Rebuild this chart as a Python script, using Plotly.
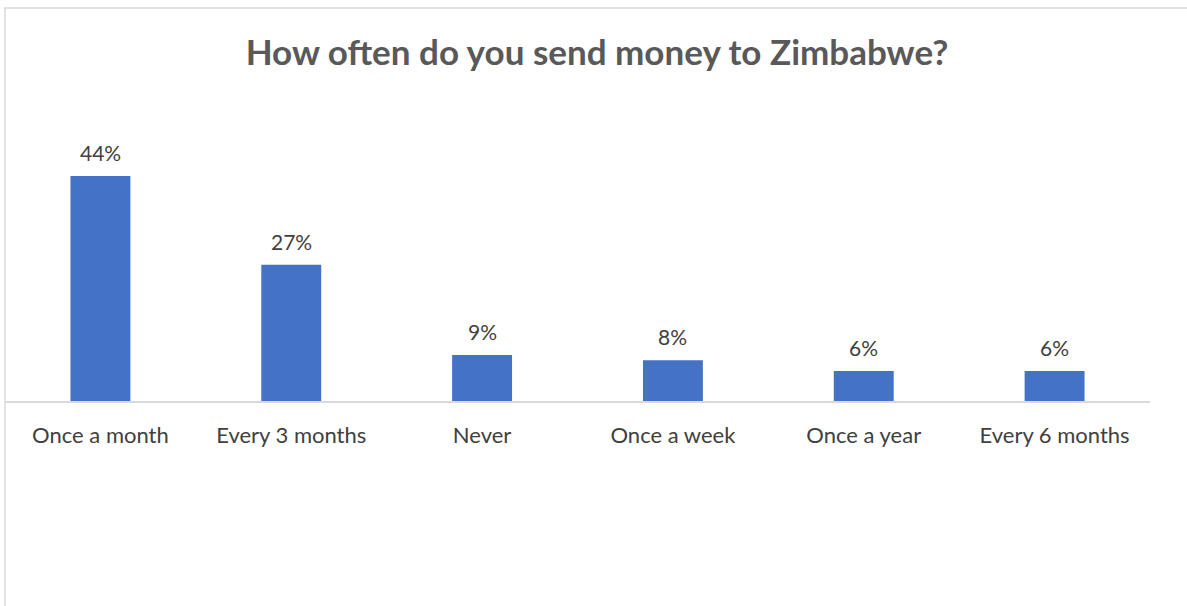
import plotly.graph_objects as go

categories = ["Once a month", "Every 3 months", "Never", "Once a week", "Once a year", "Every 6 months"]
values = [44.1, 26.7, 9.0, 8.0, 5.9, 5.9]
labels = ["44%", "27%", "9%", "8%", "6%", "6%"]

W, H = 1187, 606
L, R, T, B = 5, 37, 146, 205
plot_w = W - L - R
plot_h = H - T - B
FONT = "Lato"

fig = go.Figure()
fig.add_trace(go.Bar(
    x=categories, y=values,
    marker=dict(color="#4472C4", line=dict(width=0)),
    hoverinfo="skip",
))

for c, v, t in zip(categories, values, labels):
    fig.add_annotation(x=c, y=v, text=t, showarrow=False, yanchor="bottom",
                       yshift=9, font=dict(family=FONT, size=21, color="#404040"))

# chart border (top and left edges visible)
top_y = (H - B - 8) / plot_h
fig.add_shape(type="line", xref="paper", yref="paper",
              x0=(4 - L) / plot_w, x1=(W + 5 - L) / plot_w, y0=top_y, y1=top_y,
              line=dict(color="#d9d9d9", width=1.5))
fig.add_shape(type="line", xref="paper", yref="paper",
              x0=0, x1=0, y0=top_y, y1=-(B + 5) / plot_h,
              line=dict(color="#d9d9d9", width=1.5))

fig.update_layout(
    width=W, height=H,
    margin=dict(l=L, r=R, t=T, b=B, autoexpand=False),
    paper_bgcolor="white", plot_bgcolor="white",
    bargap=0.686,
    showlegend=False,
    title=dict(text="<b>How often do you send money to Zimbabwe?</b>",
               x=597 / W, xanchor="center", y=1 - 53 / H, yanchor="middle",
               font=dict(family=FONT, size=35, color="#595959")),
    xaxis=dict(showline=True, linecolor="#d9d9d9", linewidth=1.5,
               showgrid=False, zeroline=False, ticks="",
               ticklabelstandoff=14,
               tickfont=dict(family=FONT, size=22, color="#404040")),
    yaxis=dict(range=[0, 50], visible=False, showgrid=False, zeroline=False),
)

fig.write_html("out.html", config={"displayModeBar": False},
               post_script="document.body.style.margin='0';document.body.style.overflow='hidden';")
